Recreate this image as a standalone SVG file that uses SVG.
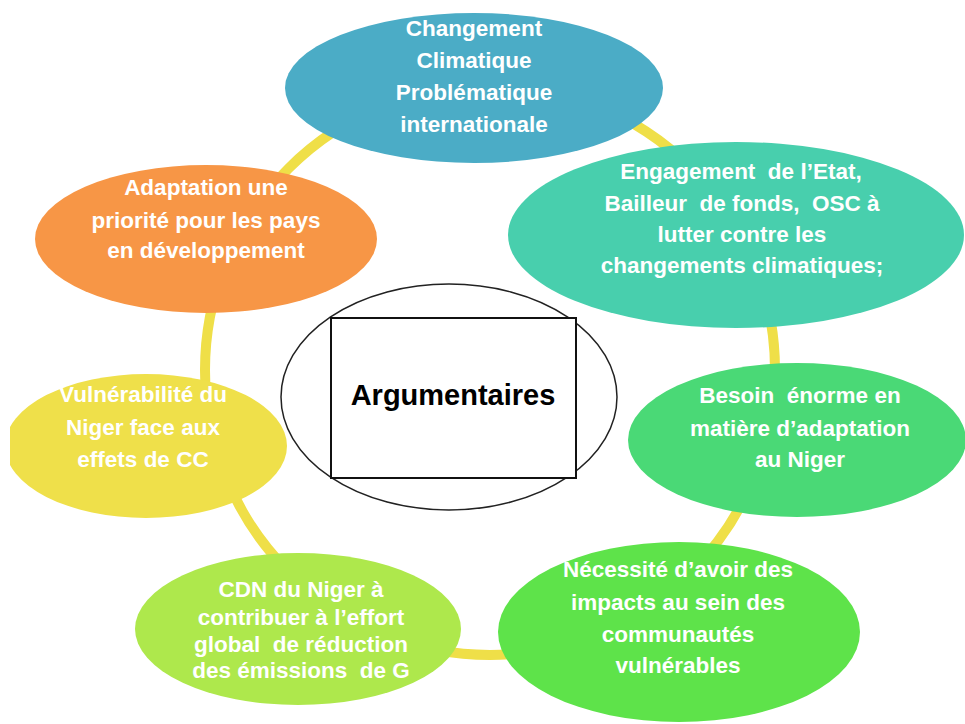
<svg xmlns="http://www.w3.org/2000/svg" width="965" height="724" viewBox="0 0 965 724">
<style>
.lbl{font-family:"Liberation Sans",Arial,sans-serif;font-weight:bold;font-size:22.5px;fill:#ffffff;text-anchor:middle;white-space:pre}
.ring{fill:none;stroke:#EFDF48;stroke-width:10}
</style>
<defs>
<clipPath id="clipL"><rect x="10" y="0" width="955" height="724"/></clipPath>
</defs>
<rect width="965" height="724" fill="#ffffff"/>
<g id="connectors">
<circle class="ring" cx="490" cy="370" r="285"/>
</g>
<g id="center">
<ellipse cx="449" cy="397" rx="168" ry="113" fill="#ffffff" stroke="#222" stroke-width="1.5"/>
<rect x="331" y="318" width="245" height="160" fill="#ffffff" stroke="#111" stroke-width="2"/>
<text x="453" y="405" font-family="Liberation Sans,Arial,sans-serif" font-weight="bold" font-size="29" text-anchor="middle" fill="#000">Argumentaires</text>
</g>
<g id="n-changement">
<ellipse cx="474" cy="88" rx="189" ry="75" fill="#4BACC6"/>
<text class="lbl" x="474" y="36">Changement</text>
<text class="lbl" x="474" y="68">Climatique</text>
<text class="lbl" x="474" y="100">Problématique</text>
<text class="lbl" x="474" y="132">internationale</text>
</g>
<g id="n-engagement">
<ellipse cx="736" cy="235" rx="228" ry="93" fill="#48CFAD"/>
<text class="lbl" x="741" y="179">Engagement  de l’Etat,</text>
<text class="lbl" x="742" y="211">Bailleur  de fonds,  OSC à</text>
<text class="lbl" x="742" y="242">lutter contre les</text>
<text class="lbl" x="742" y="273">changements climatiques;</text>
</g>
<g id="n-adaptation">
<ellipse cx="206" cy="239" rx="171" ry="74" fill="#F79646"/>
<text class="lbl" x="206" y="195">Adaptation une</text>
<text class="lbl" x="206" y="228">priorité pour les pays</text>
<text class="lbl" x="206" y="258">en développement</text>
</g>
<g id="n-vulnerabilite">
<ellipse cx="146" cy="446" rx="141" ry="72" fill="#EFE04A" clip-path="url(#clipL)"/>
<text class="lbl" x="143" y="402">Vulnérabilité du</text>
<text class="lbl" x="143" y="435">Niger face aux</text>
<text class="lbl" x="143" y="467">effets de CC</text>
</g>
<g id="n-besoin">
<ellipse cx="797" cy="440" rx="169" ry="77" fill="#4AD976"/>
<text class="lbl" x="800" y="403">Besoin  énorme en</text>
<text class="lbl" x="800" y="436">matière d’adaptation</text>
<text class="lbl" x="800" y="467">au Niger</text>
</g>
<g id="n-cdn">
<ellipse cx="298" cy="629" rx="163" ry="76" fill="#AEE84C"/>
<text class="lbl" x="301" y="597">CDN du Niger à</text>
<text class="lbl" x="301" y="625">contribuer à l’effort</text>
<text class="lbl" x="301" y="652">global  de réduction</text>
<text class="lbl" x="301" y="678">des émissions  de G</text>
</g>
<g id="n-necessite">
<ellipse cx="679" cy="632" rx="181" ry="90" fill="#5EE34A"/>
<text class="lbl" x="678" y="577">Nécessité d’avoir des</text>
<text class="lbl" x="678" y="610">impacts au sein des</text>
<text class="lbl" x="678" y="642">communautés</text>
<text class="lbl" x="678" y="673">vulnérables</text>
</g>
</svg>
